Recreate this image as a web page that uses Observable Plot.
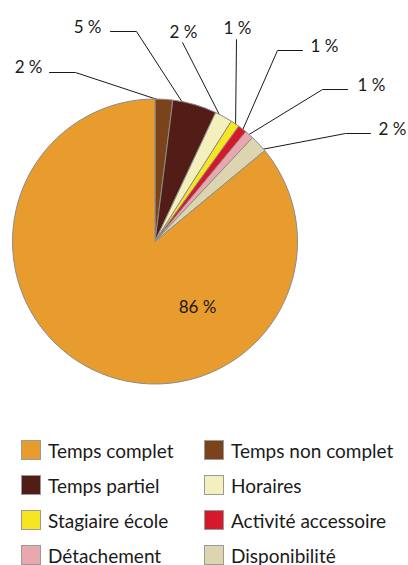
<!DOCTYPE html>
<html><head><meta charset="utf-8">
<script src="https://cdn.jsdelivr.net/npm/d3@7"></script>
<script src="https://cdn.jsdelivr.net/npm/@observablehq/plot@0.6"></script>
<style>
body{margin:0;background:#fff;font-family:Lato,"Open Sans",sans-serif;}
#legend{position:relative;width:408px;height:135px;}
.item{position:absolute;display:flex;align-items:center;font-size:19px;color:#1a1a1a;height:24px;white-space:nowrap;}
.sw{width:20px;height:20px;box-sizing:border-box;border:1px solid #9a9a9a;margin-right:7px;flex:none;}
</style></head><body><div id="chart"></div><div id="legend"></div>
<script>
// ---- data ----
const categories = ["Temps complet", "Temps non complet", "Temps partiel", "Horaires",
  "Stagiaire école", "Activité accessoire", "Détachement", "Disponibilité"];
const values = [86, 2, 5, 2, 1, 1, 1, 2];
const valueLabels = ["86 %", "2 %", "5 %", "2 %", "1 %", "1 %", "1 %", "2 %"];
const colors = ["#E89C2D", "#7A4319", "#521D16", "#F4F0BD", "#F7E51F", "#D6182B", "#E9A7AE", "#DCD5AF"];
// drawing order of slices, clockwise from 12 o'clock
const pieOrder = ["Temps non complet", "Temps partiel", "Horaires", "Stagiaire école",
  "Activité accessoire", "Détachement", "Disponibilité", "Temps complet"];

// ---- layout (pixels relative to pie centre) ----
const R = 142.5;
const labelLayout = {
  "Temps non complet":   {frac: 0.1,  elbow: [-80, -169.5], end: [-106, -169.5], text: [-113, -169.5], anchor: "end"},
  "Temps partiel":       {frac: 0.2,  elbow: [-19, -210.5], end: [-45, -210.5],  text: [-54, -209],    anchor: "end"},
  "Horaires":            {frac: 0.2,  elbow: [27, -199.5],  end: [27, -199.5],   text: [28, -204.5],   anchor: "middle"},
  "Stagiaire école":     {frac: 0.5,  elbow: [81, -202.5],  end: [81, -202.5],   text: [82, -208.5],   anchor: "middle"},
  "Activité accessoire": {frac: 0.5,  elbow: [122, -191.5], end: [147, -191.5],  text: [155, -190.5],  anchor: "start"},
  "Détachement":         {frac: 0.4,  elbow: [167, -152.5], end: [192, -152.5],  text: [202, -151.5],  anchor: "start"},
  "Disponibilité":       {frac: 0.85, elbow: [190, -108.5], end: [215, -108.5],  text: [223, -107.5],  anchor: "start"},
  "Temps complet":       {inside: [42, 70.5]}
};

const pieData = pieOrder.map(c => {
  const i = categories.indexOf(c);
  return {category: c, value: values[i], label: valueLabels[i]};
});
const slices = d3.pie().sort(null).value(d => d.value)(pieData);

const linePts = [];
const textRows = [];
for (const s of slices) {
  const L = labelLayout[s.data.category];
  if (L.inside) {
    textRows.push({x: L.inside[0], y: L.inside[1], text: s.data.label, anchor: "middle"});
    continue;
  }
  const a = s.startAngle + L.frac * (s.endAngle - s.startAngle);
  const p0 = [R * Math.sin(a), -R * Math.cos(a)];
  [p0, L.elbow, L.end].forEach((p, k) => linePts.push({id: s.data.category, k, x: p[0], y: p[1]}));
  textRows.push({x: L.text[0], y: L.text[1], text: s.data.label, anchor: L.anchor});
}

function pieMark(index, scales) {
  const {x, y, color} = scales;
  const cx = x(0), cy = y(0), r = x(R) - x(0);
  const arc = d3.arc().innerRadius(0).outerRadius(r);
  const g = d3.create("svg:g").attr("transform", `translate(${cx},${cy})`);
  g.selectAll("path").data(slices).join("path")
    .attr("d", arc)
    .attr("fill", d => color(d.data.category))
    .attr("stroke", "#8c8c8c")
    .attr("stroke-width", 1)
    .attr("stroke-linejoin", "round");
  return g.node();
}

const textMark = anchor => Plot.text(textRows.filter(d => d.anchor === anchor), {
  x: "x", y: "y", text: "text", textAnchor: anchor, lineAnchor: "bottom",
  fontSize: 17, fill: "#1a1a1a"
});

const chart = Plot.plot({
  width: 408, height: 430,
  margin: 0,
  style: {fontFamily: "Lato, 'Open Sans', sans-serif", background: "#fff", overflow: "visible"},
  x: {domain: [-155, 253], range: [0, 408], axis: null},
  y: {domain: [-241.5, 188.5], range: [0, 430], axis: null},
  color: {type: "ordinal", domain: categories, range: colors},
  marks: [
    Plot.line(linePts, {x: "x", y: "y", z: "id", stroke: "#1a1a1a", strokeWidth: 1}),
    pieMark,
    textMark("end"), textMark("middle"), textMark("start")
  ]
});
document.getElementById("chart").appendChild(chart);

// ---- legend ----
const leg = document.getElementById("legend");
const colorScale = chart.scale("color");
categories.forEach((c, i) => {
  const col = i % 2, row = Math.floor(i / 2);
  const el = document.createElement("div");
  el.className = "item";
  el.style.left = (col ? 204 : 21) + "px";
  el.style.top = (8 + row * 35) + "px";
  const sw = document.createElement("span");
  sw.className = "sw";
  sw.style.background = colorScale.apply(c);
  const tx = document.createElement("span");
  tx.textContent = c;
  el.appendChild(sw); el.appendChild(tx);
  leg.appendChild(el);
});
</script></body></html>
